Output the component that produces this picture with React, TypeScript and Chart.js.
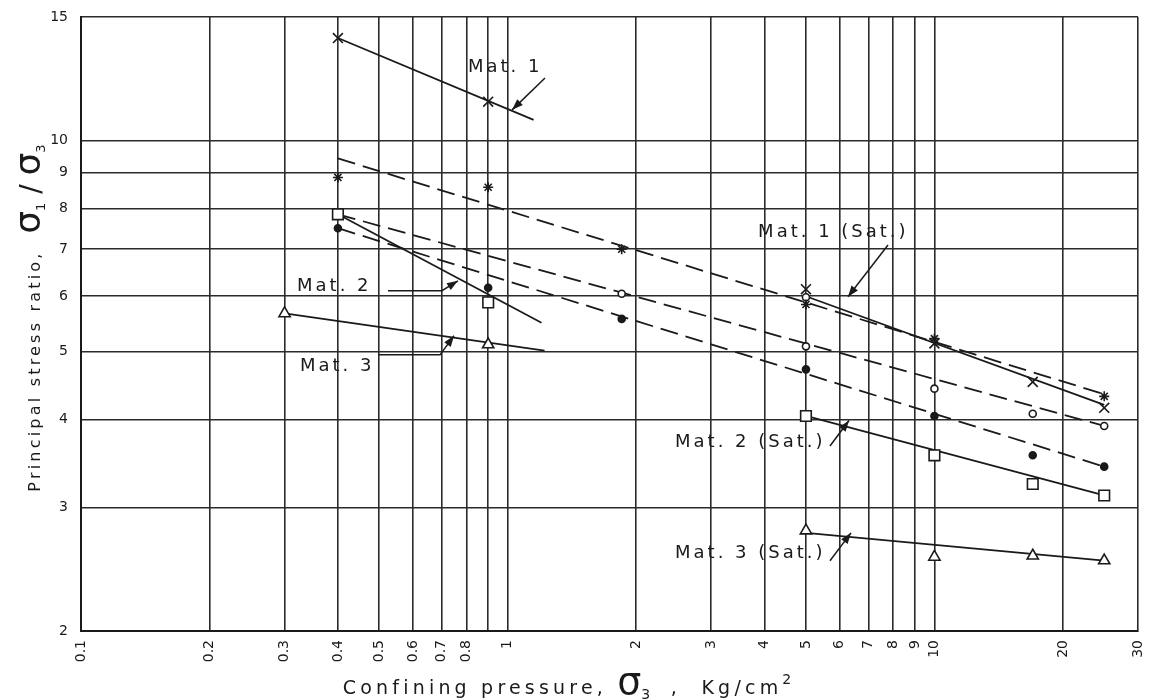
import React, { useEffect, useRef } from 'react';
import { Chart, registerables } from 'chart.js';

Chart.register(...registerables);

// ---- axis ticks ----
const xTickValues = [0.1, 0.2, 0.3, 0.4, 0.5, 0.6, 0.7, 0.8, 0.9, 1, 2, 3, 4, 5, 6, 7, 8, 9, 10, 20, 30];
const xTickLabels = ['0.1', '0.2', '0.3', '0.4', '0.5', '0.6', '0.7', '0.8', '', '1', '2', '3', '4', '5', '6', '7', '8', '9', '10', '20', '30'];
const yTickValues = [2, 3, 4, 5, 6, 7, 8, 9, 10, 15];
const yTickLabels = ['2', '3', '4', '5', '6', '7', '8', '9', '10', '15'];

// ---- measured points (confining pressure, stress ratio) ----
const crossX = [0.4, 0.9, 5, 10, 17, 25];
const crossY = [14.0, 11.36, 6.14, 5.14, 4.53, 4.16];
const starX = [0.4, 0.9, 1.85, 5, 10, 25];
const starY = [8.86, 8.58, 7.0, 5.84, 5.22, 4.32];
const openCircleX = [1.85, 5, 5, 10, 17, 25];
const openCircleY = [6.05, 5.98, 5.09, 4.43, 4.08, 3.92];
const dotX = [0.4, 0.9, 1.85, 5, 10, 17, 25];
const dotY = [7.5, 6.17, 5.57, 4.72, 4.05, 3.56, 3.43];
const squareX = [0.4, 0.9, 5, 10, 17, 25];
const squareY = [7.85, 5.88, 4.05, 3.56, 3.24, 3.12];
const triangleX = [0.3, 0.9, 5, 10, 17, 25];
const triangleY = [5.67, 5.12, 2.78, 2.55, 2.56, 2.52];

// ---- fitted lines ----
const mat1X = [0.4, 1.15];
const mat1Y = [14.0, 10.7];
const mat1SatDashX = [0.4, 25];
const mat1SatDashY = [9.43, 4.35];
const mat1SatX = [5, 25];
const mat1SatY = [6.0, 4.2];
const circleFitX = [0.4, 25];
const circleFitY = [7.85, 3.92];
const dotFitX = [0.4, 25];
const dotFitY = [7.5, 3.43];
const mat2X = [0.4, 1.2];
const mat2Y = [7.85, 5.5];
const mat3X = [0.3, 1.22];
const mat3Y = [5.67, 5.02];
const mat2SatX = [5, 25];
const mat2SatY = [4.05, 3.12];
const mat3SatX = [5, 25];
const mat3SatY = [2.76, 2.52];

// ---- annotations (data coordinates) ----
const labelTexts = ['Mat. 1', 'Mat. 1 (Sat.)', 'Mat. 2', 'Mat. 3', 'Mat. 2 (Sat.)', 'Mat. 3 (Sat.)'];
const labelX = [0.807, 3.862, 0.3208, 0.326, 2.467, 2.467];
const labelY = [12.73, 7.39, 6.19, 4.76, 3.72, 2.58];
const arrowPathsX = [
  [1.223, 1.024],
  [7.785, 6.273],
  [0.5242, 0.7015, 0.7647],
  [0.4966, 0.694, 0.7485],
  [5.692, 6.307],
  [5.692, 6.376],
];
const arrowPathsY = [
  [12.28, 11.06],
  [7.1, 5.99],
  [6.11, 6.11, 6.31],
  [4.95, 4.95, 5.27],
  [3.67, 3.99],
  [2.518, 2.76],
];

const INK = '#1a1a1a';
const GRID = '#2b2b2b';
const FAMILY = "'DejaVu Sans', sans-serif";

const pts = (xs: number[], ys: number[]) => xs.map((x, i) => ({ x, y: ys[i] }));

const fit = (xs: number[], ys: number[], dash: number[] = []) => ({
  data: pts(xs, ys),
  showLine: true,
  pointRadius: 0,
  borderColor: INK,
  borderWidth: 1.8,
  borderDash: dash,
  order: 1,
});

const markers = (xs: number[], ys: number[], style: string, radius: number, fill: string) => ({
  data: pts(xs, ys),
  showLine: false,
  pointStyle: style,
  pointRadius: radius,
  pointBorderWidth: 1.6,
  pointBorderColor: INK,
  pointBackgroundColor: fill,
  order: 0,
});

type Seg = { t: string; size: number; ls: number; dy?: number };

function drawRich(ctx: CanvasRenderingContext2D, segs: Seg[], cx: number, cy: number) {
  const widths: number[] = [];
  let total = 0;
  segs.forEach((s) => {
    ctx.font = `${s.size}px ${FAMILY}`;
    (ctx as any).letterSpacing = `${s.ls}px`;
    const w = ctx.measureText(s.t).width;
    widths.push(w);
    total += w;
  });
  let x = cx - total / 2;
  segs.forEach((s, i) => {
    ctx.font = `${s.size}px ${FAMILY}`;
    (ctx as any).letterSpacing = `${s.ls}px`;
    ctx.fillText(s.t, x, cy + (s.dy || 0));
    x += widths[i];
  });
  (ctx as any).letterSpacing = '0px';
}

const decorPlugin = {
  id: 'decor',
  afterDraw(chart: any) {
    const { ctx, scales } = chart;
    const xs = scales.x;
    const ys = scales.y;
    ctx.save();
    ctx.fillStyle = INK;
    ctx.strokeStyle = INK;

    // annotation labels
    ctx.textAlign = 'left';
    ctx.textBaseline = 'middle';
    ctx.font = `18px ${FAMILY}`;
    (ctx as any).letterSpacing = '3px';
    labelTexts.forEach((t, i) => {
      ctx.fillText(t, xs.getPixelForValue(labelX[i]), ys.getPixelForValue(labelY[i]));
    });
    (ctx as any).letterSpacing = '0px';

    // arrows
    ctx.lineWidth = 1.5;
    arrowPathsX.forEach((px, i) => {
      const py = arrowPathsY[i];
      const p = px.map((v, j) => [xs.getPixelForValue(v), ys.getPixelForValue(py[j])]);
      ctx.beginPath();
      ctx.moveTo(p[0][0], p[0][1]);
      for (let j = 1; j < p.length; j++) ctx.lineTo(p[j][0], p[j][1]);
      ctx.stroke();
      const [x1, y1] = p[p.length - 2];
      const [x2, y2] = p[p.length - 1];
      const a = Math.atan2(y2 - y1, x2 - x1);
      const L = 11;
      const W = 4;
      ctx.beginPath();
      ctx.moveTo(x2, y2);
      ctx.lineTo(x2 - L * Math.cos(a) + W * Math.sin(a), y2 - L * Math.sin(a) - W * Math.cos(a));
      ctx.lineTo(x2 - L * Math.cos(a) - W * Math.sin(a), y2 - L * Math.sin(a) + W * Math.cos(a));
      ctx.closePath();
      ctx.fill();
    });

    // axis titles
    ctx.textAlign = 'left';
    ctx.textBaseline = 'alphabetic';
    drawRich(
      ctx,
      [
        { t: 'Confining pressure, ', size: 19, ls: 4.2 },
        { t: 'σ', size: 38, ls: 0 },
        { t: '3', size: 14, ls: 0, dy: 5 },
        { t: '  ,  Kg/cm', size: 19, ls: 4.2 },
        { t: '2', size: 14, ls: 0, dy: -10 },
      ],
      567,
      694
    );

    ctx.save();
    ctx.translate(40, 318);
    ctx.rotate(-Math.PI / 2);
    drawRich(
      ctx,
      [
        { t: 'Principal stress ratio,  ', size: 16, ls: 3.2 },
        { t: 'σ', size: 36, ls: 0 },
        { t: '1', size: 13, ls: 0, dy: 5 },
        { t: ' / ', size: 28, ls: 0 },
        { t: 'σ', size: 36, ls: 0 },
        { t: '3', size: 13, ls: 0, dy: 5 },
      ],
      0,
      0
    );
    ctx.restore();

    ctx.restore();
  },
};

export default function App() {
  const canvasRef = useRef<HTMLCanvasElement | null>(null);

  useEffect(() => {
    if (!canvasRef.current) return;
    const chart = new Chart(canvasRef.current, {
      type: 'scatter',
      data: {
        datasets: [
          markers(crossX, crossY, 'crossRot', 7, 'rgba(0,0,0,0)'),
          markers(starX, starY, 'star', 5, 'rgba(0,0,0,0)'),
          markers(openCircleX, openCircleY, 'circle', 3.5, '#ffffff'),
          markers(dotX, dotY, 'circle', 3.5, INK),
          markers(squareX, squareY, 'rect', 7.5, '#ffffff'),
          markers(triangleX, triangleY, 'triangle', 6.5, '#ffffff'),
          fit(mat1X, mat1Y),
          fit(mat1SatDashX, mat1SatDashY, [18, 8]),
          fit(mat1SatX, mat1SatY),
          fit(circleFitX, circleFitY, [18, 8]),
          fit(dotFitX, dotFitY, [18, 8]),
          fit(mat2X, mat2Y),
          fit(mat3X, mat3Y),
          fit(mat2SatX, mat2SatY),
          fit(mat3SatX, mat3SatY),
        ] as any,
      },
      options: {
        animation: false,
        responsive: true,
        maintainAspectRatio: false,
        layout: { padding: { left: 0, right: 11, top: 17, bottom: 0 } },
        plugins: {
          legend: { display: false },
          tooltip: { enabled: false },
        },
        scales: {
          x: {
            type: 'logarithmic',
            min: 0.1,
            max: 30,
            afterBuildTicks: (s: any) => {
              s.ticks = xTickValues.map((v) => ({ value: v }));
            },
            afterFit: (s: any) => {
              s.height = 69;
              s.paddingLeft = 0;
              s.paddingRight = 0;
            },
            grid: { color: GRID, lineWidth: 1.6, drawTicks: false },
            border: { color: INK, width: 2 },
            ticks: {
              autoSkip: false,
              minRotation: 90,
              maxRotation: 90,
              padding: 9,
              color: INK,
              font: { family: FAMILY, size: 14 },
              callback: (_v: any, i: number) => xTickLabels[i],
            },
          },
          y: {
            type: 'logarithmic',
            min: 2,
            max: 15,
            afterBuildTicks: (s: any) => {
              s.ticks = yTickValues.map((v) => ({ value: v }));
            },
            afterFit: (s: any) => {
              s.width = 81;
              s.paddingTop = 0;
              s.paddingBottom = 0;
            },
            grid: { color: GRID, lineWidth: 1.6, drawTicks: false },
            border: { color: INK, width: 2 },
            ticks: {
              autoSkip: false,
              padding: 13,
              color: INK,
              font: { family: FAMILY, size: 14 },
              callback: (_v: any, i: number) => yTickLabels[i],
            },
          },
        },
      } as any,
      plugins: [decorPlugin],
    });
    return () => chart.destroy();
  }, []);

  return (
    <div style={{ position: 'absolute', left: 0, top: 0, width: 1149, height: 700, background: '#ffffff' }}>
      <canvas ref={canvasRef} />
    </div>
  );
}
